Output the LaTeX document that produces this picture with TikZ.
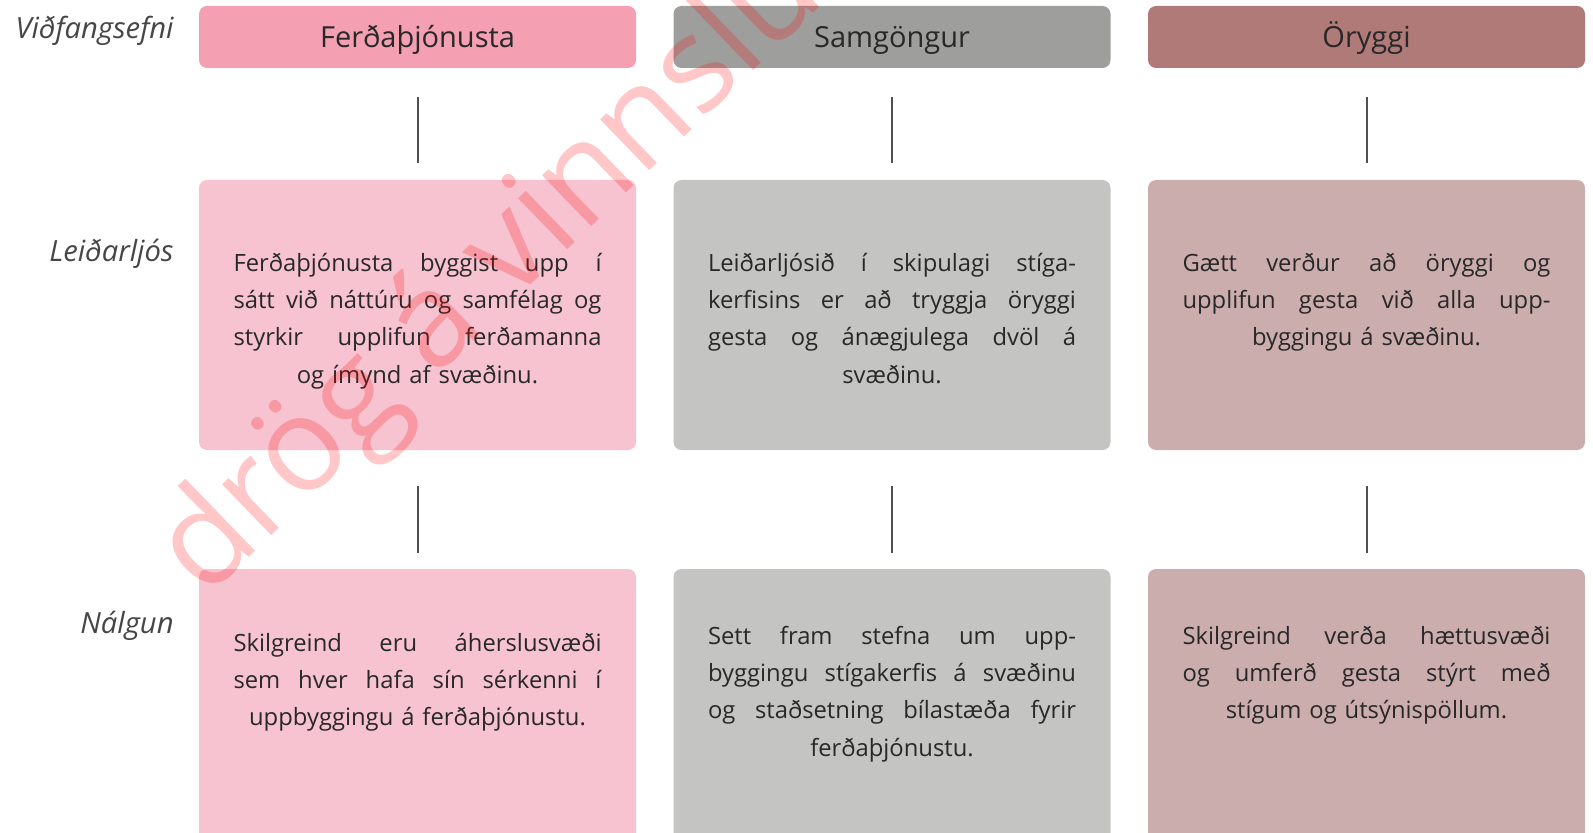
\documentclass[tikz,border=0pt]{standalone}
\usepackage{fontspec}
\setmainfont{Open Sans}
\usetikzlibrary{calc}
\definecolor{hA}{RGB}{245,159,179}
\definecolor{hB}{RGB}{158,158,156}
\definecolor{hC}{RGB}{176,122,121}
\definecolor{lA}{RGB}{247,195,208}
\definecolor{lB}{RGB}{196,196,195}
\definecolor{lC}{RGB}{204,173,174}
\definecolor{ink}{RGB}{40,40,40}
\definecolor{lblink}{RGB}{70,70,70}
\definecolor{conncol}{RGB}{80,80,80}
\newcommand{\jl}[1]{\leavevmode\hbox to 184pt{\spaceskip=\fontdimen2\font plus 1fil\relax #1}\\}
\tikzset{
  hdrbox/.style={rounded corners=4pt, minimum width=218.5pt, minimum height=31pt, inner sep=0pt,
    text height=13.5pt, text depth=3pt, text=ink, font=\fontsize{14.5}{17}\selectfont},
  cellbox/.style={rounded corners=4pt, minimum width=218.5pt, inner sep=0pt},
  celltxt/.style={text width=184pt, align=center, inner sep=0pt, anchor=north, text=ink,
    font=\fontsize{11.9}{18.65}\selectfont},
  rowlbl/.style={anchor=mid east, inner sep=0pt, text=lblink, font=\fontsize{14.6}{17}\selectfont\itshape},
  conn/.style={draw=conncol, line width=1pt},
  wmark/.style={text=red, text opacity=0.22, inner sep=0pt, font=\fontsize{66}{76}\selectfont}
}
\begin{document}
\begin{tikzpicture}[x=0.5pt,y=-0.5pt]
\useasboundingbox (0,0) rectangle (1593,833);
\clip (0,0) rectangle (1593,833);
% row labels
\node[rowlbl] (lab1) at (174,33) {Viðfangsefni};
\node[rowlbl] (lab2) at (174,256) {Leiðarljós};
\node[rowlbl] (lab3) at (174,628) {Nálgun};
% headers
\node[hdrbox, fill=hA] (h1) at (417.5,37) {Ferðaþjónusta};
\node[hdrbox, fill=hB] (h2) at (892,37) {Samgöngur};
\node[hdrbox, fill=hC] (h3) at (1366.5,37) {Öryggi};
% middle boxes
\node[cellbox, fill=lA, minimum height=135pt] (m1) at (417.5,315) {};
\node[cellbox, fill=lB, minimum height=135pt] (m2) at (892,315) {};
\node[cellbox, fill=lC, minimum height=135pt] (m3) at (1366.5,315) {};
% bottom boxes (run off the page)
\node[cellbox, fill=lA, minimum height=150pt] (b1) at (417.5,719) {};
\node[cellbox, fill=lB, minimum height=150pt] (b2) at (892,719) {};
\node[cellbox, fill=lC, minimum height=150pt] (b3) at (1366.5,719) {};
% connectors
\foreach \i in {1,2,3}{
  \draw[conn, shorten <=14.25pt, shorten >=8.25pt] (h\i.south) -- (m\i.north);
  \draw[conn, shorten <=17.8pt, shorten >=7.65pt] (m\i.south) -- (b\i.north);
}
% texts
\node[celltxt] (t1) at ($(m1.north)+(0,73)$) {\jl{Ferðaþjónusta byggist upp í}\jl{sátt við náttúru og samfélag og}\jl{styrkir upplifun ferðamanna}og ímynd af svæðinu.};
\node[celltxt] (t2) at ($(m2.north)+(0,73)$) {\jl{Leiðarljósið í skipulagi stíga-}\jl{kerfisins er að tryggja öryggi}\jl{gesta og ánægjulega dvöl á}svæðinu.};
\node[celltxt] (t3) at ($(m3.north)+(0,73)$) {\jl{Gætt verður að öryggi og}\jl{upplifun gesta við alla upp-}byggingu á svæðinu.};
\node[celltxt] (u1) at ($(b1.north)+(0,64)$) {\jl{Skilgreind eru áherslusvæði}\jl{sem hver hafa sín sérkenni í}uppbyggingu á ferðaþjónustu.};
\node[celltxt] (u2) at ($(b2.north)+(0,57)$) {\jl{Sett fram stefna um upp-}\jl{byggingu stígakerfis á svæðinu}\jl{og staðsetning bílastæða fyrir}ferðaþjónustu.};
\node[celltxt] (u3) at ($(b3.north)+(0,57)$) {\jl{Skilgreind verða hættusvæði}\jl{og umferð gesta stýrt með}stígum og útsýnispöllum.};
% watermark
\node[wmark, rotate=44, anchor=base west] (wm) at (205,600) {drög á vinnslu};
\end{tikzpicture}
\end{document}
